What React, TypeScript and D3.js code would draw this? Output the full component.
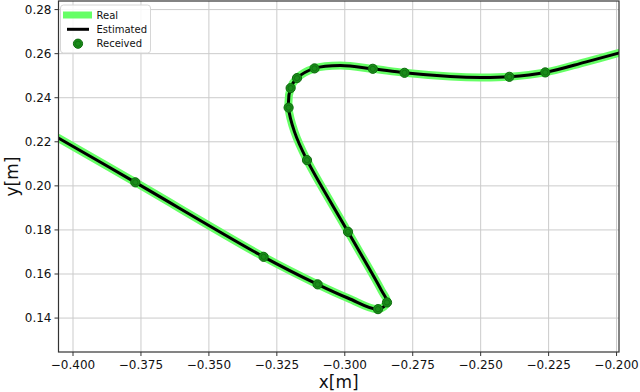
import React from "react";
import * as d3 from "d3";

// Trajectory (metres)
const pathX = [-0.4054, -0.37708, -0.32987, -0.31, -0.2987, -0.28778, -0.28446, -0.28656, -0.29881, -0.3139, -0.3185, -0.32067, -0.31993, -0.31758, -0.31114, -0.30164, -0.28969, -0.27802, -0.26117, -0.25, -0.23946, -0.22622, -0.21149, -0.19862];
const pathY = [0.2217, 0.2016, 0.1678, 0.1553, 0.149, 0.14405, 0.14709, 0.15267, 0.17914, 0.21168, 0.2245, 0.23551, 0.24437, 0.24891, 0.25331, 0.25458, 0.25313, 0.25131, 0.24959, 0.24913, 0.24949, 0.25149, 0.25617, 0.26048];

// Received samples
const recvX = [-0.37708, -0.32987, -0.31, -0.28778, -0.28446, -0.29881, -0.3139, -0.32067, -0.31993, -0.31758, -0.31114, -0.28969, -0.27802, -0.23946, -0.22622];
const recvY = [0.2016, 0.1678, 0.1553, 0.14405, 0.14709, 0.17914, 0.21168, 0.23551, 0.24437, 0.24891, 0.25331, 0.25313, 0.25131, 0.24949, 0.25149];

const xTicks = [-0.4, -0.375, -0.35, -0.325, -0.3, -0.275, -0.25, -0.225, -0.2];
const yTicks = [0.14, 0.16, 0.18, 0.2, 0.22, 0.24, 0.26, 0.28];
const legendLabels = ["Real", "Estimated", "Received"];

const W = 640, H = 392;
const L = 58.5, R = 619, T = 1, B = 352;
const font = "DejaVu Sans, sans-serif";

export default function App() {
  const x = d3.scaleLinear().domain([-0.40534, -0.1991]).range([L, R]);
  const y = d3.scaleLinear().domain([0.1246, 0.2839]).range([B, T]);
  const pts: [number, number][] = pathX.map((v, i) => [v, pathY[i]]);
  const line = d3.line<[number, number]>().x(d => x(d[0])).y(d => y(d[1])).curve(d3.curveCatmullRom.alpha(0.5));
  const d = line(pts) || "";
  const fmtX = (v: number) => d3.format(".3f")(v).replace("-", "\u2212");
  const fmtY = (v: number) => d3.format(".2f")(v);
  return (
    <svg width={W} height={H} style={{ position: "absolute", left: 0, top: 0, background: "#fff" }} fontFamily={font}>
      <defs>
        <clipPath id="plot"><rect x={L} y={T} width={R - L} height={B - T} /></clipPath>
      </defs>
      <rect x={0} y={0} width={W} height={H} fill="#fff" />
      {xTicks.map(t => (
        <line key={"gx" + t} x1={x(t)} x2={x(t)} y1={T} y2={B} stroke="#cbcbcb" strokeWidth={1} />
      ))}
      {yTicks.map(t => (
        <line key={"gy" + t} x1={L} x2={R} y1={y(t)} y2={y(t)} stroke="#cbcbcb" strokeWidth={1} />
      ))}
      <g clipPath="url(#plot)">
        <path d={d} fill="none" stroke="#66ff66" strokeWidth={8} strokeLinejoin="round" strokeLinecap="round" />
        <path d={d} fill="none" stroke="#000" strokeWidth={3} strokeLinejoin="round" strokeLinecap="round" />
        {recvX.map((v, i) => (
          <g key={"m" + i}>
            <circle cx={x(v)} cy={y(recvY[i])} r={4.6} fill="#1a8c1a" stroke="#0d6b0d" strokeWidth={1} />
            <circle cx={x(v)} cy={y(recvY[i])} r={2.6} fill="none" stroke="#0f700f" strokeWidth={0.8} />
          </g>
        ))}
      </g>
      <rect x={L} y={T} width={R - L} height={B - T} fill="none" stroke="#333" strokeWidth={1.2} />
      {xTicks.map(t => (
        <g key={"tx" + t}>
          <line x1={x(t)} x2={x(t)} y1={B} y2={B + 4} stroke="#333" strokeWidth={1} />
          <text x={x(t)} y={B + 17} textAnchor="middle" fontSize={12} fill="#111">{fmtX(t)}</text>
        </g>
      ))}
      {yTicks.map(t => (
        <g key={"ty" + t}>
          <line x1={L - 4} x2={L} y1={y(t)} y2={y(t)} stroke="#333" strokeWidth={1} />
          <text x={L - 7} y={y(t) + 4.3} textAnchor="end" fontSize={12} fill="#111">{fmtY(t)}</text>
        </g>
      ))}
      <text x={(L + R) / 2} y={388} textAnchor="middle" fontSize={17} fill="#111">x[m]</text>
      <text transform={`translate(18,${(T + B) / 2}) rotate(-90)`} textAnchor="middle" fontSize={17} fill="#111">y[m]</text>
      <g>
        <rect x={60.5} y={5} width={90} height={48} rx={3} fill="#fff" fillOpacity={0.85} stroke="#d6d6d6" strokeWidth={1} />
        <line x1={63} x2={92} y1={15} y2={15} stroke="#66ff66" strokeWidth={7} />
        <line x1={67} x2={89} y1={29.3} y2={29.3} stroke="#000" strokeWidth={3} />
        <circle cx={78} cy={43.7} r={4.6} fill="#1a8c1a" stroke="#0d6b0d" strokeWidth={1} />
        <circle cx={78} cy={43.7} r={2.6} fill="none" stroke="#0f700f" strokeWidth={0.8} />
        {legendLabels.map((s, i) => (
          <text key={s} x={96.5} y={18.5 + i * 14.4} fontSize={10} fill="#111">{s}</text>
        ))}
      </g>
    </svg>
  );
}
